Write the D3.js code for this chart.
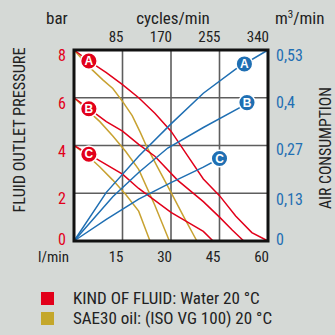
<!DOCTYPE html>
<html>
<head>
<meta charset="utf-8">
<script src="https://cdn.jsdelivr.net/npm/d3@7"></script>
<style>
  body { margin: 0; background: #d5d9d6; }
  svg { display: block; }
  text { font-family: "Liberation Sans Narrow", "Roboto Condensed", "Liberation Sans", sans-serif; }
</style>
</head>
<body>
<svg width="335" height="335"></svg>
<script>
// axis ticks
var flowTicks = [0, 15, 30, 45, 60];
var cycleTicks = ["", "85", "170", "255", "340"];
var pressureTicks = [0, 2, 4, 6, 8];
var airTicks = [0, 0.13, 0.27, 0.4, 0.53];

// fluid outlet pressure (bar) vs flow (l/min) - water
var waterA = [[0,8],[5,7.5],[10,7.05],[15,6.55],[20,6.0],[25,5.35],[30,4.6],[35,3.6],[40,2.6],[45,1.9],[50,1.05],[55,0.35],[60,0]];
var waterB = [[0,6],[5,5.5],[10,5.0],[15,4.6],[20,4.05],[25,3.55],[32,2.55],[40,1.65],[45,1.0],[49,0.45],[52.5,0]];
var waterC = [[0,4],[5,3.6],[10,3.2],[15,2.8],[20,2.2],[25,1.7],[30,1.2],[35,0.8],[40,0.4],[43,0]];
// SAE30 oil
var oilA = [[0,8],[5,7.25],[9,6.74],[12,6.39],[15,5.85],[18,5.25],[20.5,4.55],[22.5,3.95],[26,3.05],[30,2.04],[34,1.0],[38,0]];
var oilB = [[0,6],[4,5.5],[8,5.0],[12,4.4],[16,3.75],[20,3.0],[25,1.5],[29.5,0]];
var oilC = [[0,4],[4,3.6],[8,3.1],[12,2.55],[16,1.95],[20,1.25],[23.5,0]];
// air consumption (m3/min)
var airA = [[0,0],[10,0.135],[20,0.235],[30,0.325],[40,0.41],[50,0.477],[60,0.53]];
var airB = [[0,0],[12,0.123],[20,0.19],[29,0.258],[40,0.315],[51.7,0.372],[53.5,0.384]];
var airC = [[0,0],[10,0.06],[20,0.116],[30,0.162],[40,0.205],[45,0.229]];

var red = "#e2001a", blue = "#1f6fb3", gold = "#c8a231";

var svg = d3.select("svg");
var x = d3.scaleLinear().domain([0, 60]).range([74, 268]);
var y = d3.scaleLinear().domain([0, 8]).range([241, 50]);
var yAir = d3.scaleLinear().domain([0, 0.53]).range([241, 50]);

// plot background
svg.append("rect")
    .attr("x", x(0)).attr("y", y(8))
    .attr("width", x(60) - x(0)).attr("height", y(0) - y(8))
    .attr("fill", "#fff");

// grid
svg.append("g").selectAll("line").data(flowTicks.slice(1, 4)).enter().append("line")
    .attr("x1", function(d) { return x(d); }).attr("x2", function(d) { return x(d); })
    .attr("y1", y(8)).attr("y2", y(0))
    .attr("stroke", "#5e5e5e").attr("stroke-width", 1.6);
svg.append("g").selectAll("line").data(pressureTicks.slice(1, 4)).enter().append("line")
    .attr("y1", function(d) { return y(d); }).attr("y2", function(d) { return y(d); })
    .attr("x1", x(0)).attr("x2", x(60))
    .attr("stroke", "#5e5e5e").attr("stroke-width", 1.6);

var lineP = d3.line().x(function(d) { return x(d[0]); }).y(function(d) { return y(d[1]); });
var lineA = d3.line().x(function(d) { return x(d[0]); }).y(function(d) { return yAir(d[1]); });

[oilA, oilB, oilC].forEach(function(s) {
    svg.append("path").datum(s).attr("d", lineP)
        .attr("fill", "none").attr("stroke", gold).attr("stroke-width", 1.5);
});
[waterA, waterB, waterC].forEach(function(s) {
    svg.append("path").datum(s).attr("d", lineP)
        .attr("fill", "none").attr("stroke", red).attr("stroke-width", 1.5);
});
[airA, airB, airC].forEach(function(s) {
    svg.append("path").datum(s).attr("d", lineA)
        .attr("fill", "none").attr("stroke", blue).attr("stroke-width", 1.5);
});

// frame
svg.append("rect")
    .attr("x", x(0)).attr("y", y(8))
    .attr("width", x(60) - x(0)).attr("height", y(0) - y(8))
    .attr("fill", "none").attr("stroke", "#111").attr("stroke-width", 3);

// badges
function interp(s, xv) {
    for (var i = 1; i < s.length; i++) {
        if (xv <= s[i][0]) {
            var t = (xv - s[i-1][0]) / (s[i][0] - s[i-1][0]);
            return s[i-1][1] + t * (s[i][1] - s[i-1][1]);
        }
    }
    return s[s.length - 1][1];
}
function badge(cx, cy, col, letter) {
    svg.append("circle").attr("cx", cx).attr("cy", cy).attr("r", 8.3)
        .attr("fill", col).attr("stroke", "#fff").attr("stroke-width", 1.5);
    svg.append("text").attr("x", cx).attr("y", cy + 4.2)
        .attr("text-anchor", "middle").attr("fill", "#fff")
        .style("font-family", "Liberation Sans, Arial, sans-serif")
        .style("font-weight", "bold").style("font-size", "12px").text(letter);
}
badge(x(4.6), y(interp(waterA, 4.6)), red, "A");
badge(x(4.6), y(interp(waterB, 4.6)), red, "B");
badge(x(4.6), y(interp(waterC, 4.6)), red, "C");
badge(x(52.7), yAir(interp(airA, 52.7)), blue, "A");
badge(x(53.5), yAir(interp(airB, 53.5)), blue, "B");
badge(x(45), yAir(interp(airC, 45)), blue, "C");

// left ticks (bar)
svg.append("g").selectAll("text").data(pressureTicks).enter().append("text")
    .attr("x", 66).attr("y", function(d) { return y(d) + (d === 0 ? 4 : 11); })
    .attr("text-anchor", "end").attr("fill", red).style("font-size", "16px")
    .text(function(d) { return d; });
// right ticks (m3/min)
svg.append("g").selectAll("text").data(airTicks).enter().append("text")
    .attr("x", 276).attr("y", function(d) { return yAir(d) + (d === 0 ? 4 : 11); })
    .attr("fill", blue).style("font-size", "16px")
    .text(function(d) { return String(d).replace(".", ","); });
// bottom ticks (l/min)
svg.append("g").selectAll("text").data(flowTicks.slice(1)).enter().append("text")
    .attr("x", function(d) { return x(d) + 1; }).attr("y", 262)
    .attr("text-anchor", "end").attr("fill", "#222").style("font-size", "15px")
    .text(function(d) { return d; });
svg.append("text").attr("x", 38).attr("y", 262).attr("fill", "#222")
    .style("font-size", "15px").text("l/min");
// top ticks (cycles/min)
svg.append("g").selectAll("text").data(flowTicks.slice(1)).enter().append("text")
    .attr("x", function(d) { return x(d) + 1; }).attr("y", 42)
    .attr("text-anchor", "end").attr("fill", "#222").style("font-size", "15px")
    .text(function(d, i) { return cycleTicks[i + 1]; });

// unit labels
svg.append("text").attr("x", 46).attr("y", 24).attr("fill", "#222")
    .style("font-size", "17px").text("bar");
svg.append("text").attr("x", 173).attr("y", 24).attr("text-anchor", "middle").attr("fill", "#222")
    .style("font-size", "17px").text("cycles/min");
var mu = svg.append("text").attr("x", 275).attr("y", 24).attr("fill", "#222").style("font-size", "17px");
mu.append("tspan").text("m");
mu.append("tspan").attr("dy", -6).style("font-size", "11px").text("3");
mu.append("tspan").attr("dy", 6).text("/min");

// axis titles
svg.append("text").attr("transform", "translate(25,130) rotate(-90)")
    .attr("text-anchor", "middle").attr("fill", "#222").style("font-size", "17px")
    .attr("textLength", 165).attr("lengthAdjust", "spacingAndGlyphs")
    .text("FLUID OUTLET PRESSURE");
svg.append("text").attr("transform", "translate(331,148) rotate(-90)")
    .attr("text-anchor", "middle").attr("fill", "#222").style("font-size", "17px")
    .attr("textLength", 122).attr("lengthAdjust", "spacingAndGlyphs")
    .text("AIR CONSUMPTION");

// legend
var legend = [["KIND OF FLUID: Water 20 °C", red], ["SAE30 oil: (ISO VG 100) 20 °C", "#c4a72b"]];
legend.forEach(function(l, i) {
    svg.append("rect").attr("x", 41).attr("y", 292 + i * 20).attr("width", 13).attr("height", 13)
        .attr("fill", l[1]);
    svg.append("text").attr("x", 73).attr("y", 304 + i * 20).attr("fill", "#222")
        .style("font-size", "17px").text(l[0]);
});
</script>
</body>
</html>
